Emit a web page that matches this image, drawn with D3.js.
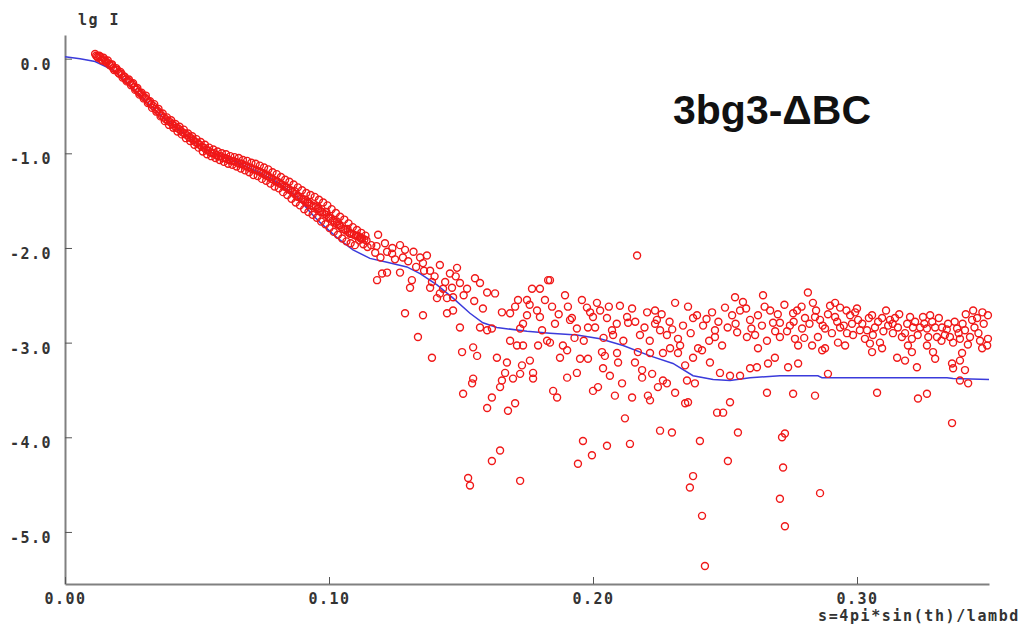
<!DOCTYPE html>
<html>
<head>
<meta charset="utf-8">
<script src="https://cdn.jsdelivr.net/npm/d3@7"></script>
<style>
body { margin: 0; background: #fff; }
</style>
</head>
<body>
<div id="chart"></div>
<script>
// tick values
var xTicks = [0, 0.1, 0.2, 0.3];
var yTicks = [0, -1, -2, -3, -4, -5];

// fitted curve (s, lg I)
var fitCurve = [
    [0.0000, 0.02], [0.0057, 0.00], [0.0114, -0.03], [0.0182, -0.12], [0.0246, -0.28],
    [0.0311, -0.46], [0.0371, -0.62], [0.0436, -0.76], [0.0500, -0.90], [0.0561, -1.00],
    [0.0625, -1.06], [0.0689, -1.14], [0.0750, -1.22], [0.0814, -1.32], [0.0879, -1.46],
    [0.0928, -1.62], [0.0966, -1.73], [0.1030, -1.89], [0.1091, -2.02], [0.1155, -2.11],
    [0.1220, -2.15], [0.1295, -2.20], [0.1345, -2.27], [0.1409, -2.39], [0.1470, -2.53],
    [0.1534, -2.69], [0.1583, -2.79], [0.1636, -2.84], [0.1750, -2.88], [0.1837, -2.90],
    [0.1939, -2.92], [0.2027, -2.96], [0.2114, -3.03], [0.2216, -3.14], [0.2303, -3.22],
    [0.2379, -3.35], [0.2455, -3.39], [0.2519, -3.40], [0.2595, -3.37], [0.2708, -3.35],
    [0.2852, -3.35], [0.2867, -3.37], [0.3341, -3.37], [0.3364, -3.38], [0.3500, -3.39]
];

// measured points, low s (dense band)
var obsBand = [
    [0.0114, 0.05], [0.0122, 0.02], [0.0130, 0.03], [0.0138, -0.01], [0.0146, 0.01],
    [0.0154, -0.03], [0.0162, -0.02], [0.0170, -0.07], [0.0178, -0.06], [0.0186, -0.12],
    [0.0194, -0.10], [0.0202, -0.15], [0.0210, -0.14], [0.0218, -0.20], [0.0226, -0.19],
    [0.0234, -0.24], [0.0242, -0.22], [0.0250, -0.28], [0.0258, -0.26], [0.0266, -0.33],
    [0.0274, -0.31], [0.0282, -0.38], [0.0290, -0.36], [0.0298, -0.42], [0.0306, -0.39],
    [0.0314, -0.47], [0.0322, -0.45], [0.0330, -0.52], [0.0338, -0.48], [0.0346, -0.56],
    [0.0354, -0.53], [0.0362, -0.61], [0.0370, -0.58], [0.0378, -0.66], [0.0386, -0.62],
    [0.0394, -0.70], [0.0402, -0.65], [0.0410, -0.73], [0.0418, -0.69], [0.0426, -0.77],
    [0.0434, -0.72], [0.0442, -0.80], [0.0450, -0.75], [0.0458, -0.84], [0.0466, -0.79],
    [0.0474, -0.87], [0.0482, -0.82], [0.0490, -0.91], [0.0498, -0.85], [0.0506, -0.94],
    [0.0514, -0.88], [0.0522, -0.98], [0.0530, -0.91], [0.0538, -1.01], [0.0546, -0.94],
    [0.0554, -1.03], [0.0562, -0.96], [0.0570, -1.05], [0.0578, -0.98], [0.0586, -1.07],
    [0.0594, -1.00], [0.0602, -1.09], [0.0610, -1.01], [0.0618, -1.11], [0.0626, -1.03],
    [0.0634, -1.12], [0.0642, -1.04], [0.0650, -1.14], [0.0658, -1.05], [0.0666, -1.16],
    [0.0674, -1.07], [0.0682, -1.18], [0.0690, -1.08], [0.0698, -1.20], [0.0706, -1.10],
    [0.0714, -1.23], [0.0722, -1.11], [0.0730, -1.24], [0.0738, -1.13], [0.0746, -1.27],
    [0.0754, -1.15], [0.0762, -1.29], [0.0770, -1.17], [0.0778, -1.32], [0.0786, -1.20],
    [0.0794, -1.35], [0.0802, -1.22], [0.0810, -1.37], [0.0818, -1.25], [0.0826, -1.41],
    [0.0834, -1.28], [0.0842, -1.44], [0.0850, -1.30], [0.0858, -1.48], [0.0866, -1.33],
    [0.0874, -1.52], [0.0882, -1.36], [0.0890, -1.55], [0.0898, -1.39], [0.0906, -1.59],
    [0.0914, -1.42], [0.0922, -1.62], [0.0930, -1.44], [0.0938, -1.65], [0.0946, -1.46],
    [0.0954, -1.68], [0.0962, -1.49], [0.0970, -1.72], [0.0978, -1.52], [0.0986, -1.75],
    [0.0994, -1.55], [0.1002, -1.79], [0.1010, -1.59], [0.1018, -1.83], [0.1026, -1.63],
    [0.1034, -1.86], [0.1042, -1.67], [0.1050, -1.90], [0.1058, -1.70], [0.1066, -1.93],
    [0.1074, -1.74], [0.1082, -1.95], [0.1090, -1.78], [0.1098, -1.97], [0.1106, -1.81],
    [0.1114, -1.92], [0.1122, -1.84], [0.1130, -1.96], [0.1138, -1.87], [0.1146, -1.99],
    [0.0760, -1.22], [0.0800, -1.30], [0.0840, -1.36], [0.0880, -1.46], [0.0920, -1.52],
    [0.0960, -1.58], [0.1000, -1.68], [0.1040, -1.76], [0.1080, -1.85], [0.1120, -1.90],
    [0.0870, -1.40], [0.0910, -1.49], [0.0950, -1.55], [0.0990, -1.62], [0.1030, -1.72],
    [0.1070, -1.80], [0.1110, -1.87]
];

// measured points, low s (middle of the band)
var obsBandMid = [
    [0.0118, 0.03], [0.0126, 0.01], [0.0134, 0.02], [0.0142, -0.02], [0.0150, -0.01],
    [0.0158, -0.04], [0.0166, -0.05], [0.0174, -0.06], [0.0182, -0.10], [0.0190, -0.11],
    [0.0198, -0.12], [0.0206, -0.16], [0.0214, -0.16], [0.0222, -0.19], [0.0230, -0.22],
    [0.0238, -0.23], [0.0246, -0.25], [0.0254, -0.27], [0.0262, -0.30], [0.0270, -0.32],
    [0.0278, -0.35], [0.0286, -0.37], [0.0294, -0.39], [0.0302, -0.41], [0.0310, -0.43],
    [0.0318, -0.46], [0.0326, -0.48], [0.0334, -0.50], [0.0342, -0.53], [0.0350, -0.55],
    [0.0358, -0.57], [0.0366, -0.60], [0.0374, -0.62], [0.0382, -0.64], [0.0390, -0.66],
    [0.0398, -0.67], [0.0406, -0.69], [0.0414, -0.71], [0.0422, -0.73], [0.0430, -0.74],
    [0.0438, -0.76], [0.0446, -0.78], [0.0454, -0.79], [0.0462, -0.81], [0.0470, -0.83],
    [0.0478, -0.84], [0.0486, -0.86], [0.0494, -0.88], [0.0502, -0.89], [0.0510, -0.91],
    [0.0518, -0.93], [0.0526, -0.94], [0.0534, -0.96], [0.0542, -0.97], [0.0550, -0.99],
    [0.0558, -1.00], [0.0566, -1.00], [0.0574, -1.02], [0.0582, -1.03], [0.0590, -1.03],
    [0.0598, -1.05], [0.0606, -1.05], [0.0614, -1.06], [0.0622, -1.07], [0.0630, -1.08],
    [0.0638, -1.08], [0.0646, -1.09], [0.0654, -1.10], [0.0662, -1.11], [0.0670, -1.11],
    [0.0678, -1.13], [0.0686, -1.13], [0.0694, -1.15], [0.0702, -1.15], [0.0710, -1.17],
    [0.0718, -1.17], [0.0726, -1.18], [0.0734, -1.19], [0.0742, -1.20], [0.0750, -1.21],
    [0.0758, -1.23], [0.0766, -1.24], [0.0774, -1.25], [0.0782, -1.27], [0.0790, -1.28],
    [0.0798, -1.29], [0.0806, -1.30], [0.0814, -1.32], [0.0822, -1.33], [0.0830, -1.35],
    [0.0838, -1.36], [0.0846, -1.38], [0.0854, -1.39], [0.0862, -1.41], [0.0870, -1.43],
    [0.0878, -1.45], [0.0886, -1.46], [0.0894, -1.48], [0.0902, -1.49], [0.0910, -1.51],
    [0.0918, -1.52], [0.0926, -1.53], [0.0934, -1.55], [0.0942, -1.56], [0.0950, -1.57],
    [0.0958, -1.59], [0.0966, -1.61], [0.0974, -1.62], [0.0982, -1.64], [0.0990, -1.65],
    [0.0998, -1.67], [0.1006, -1.69], [0.1014, -1.71], [0.1022, -1.73], [0.1030, -1.75],
    [0.1038, -1.76], [0.1046, -1.78], [0.1054, -1.80], [0.1062, -1.81], [0.1070, -1.83],
    [0.1078, -1.84], [0.1086, -1.85], [0.1094, -1.86], [0.1102, -1.87], [0.1110, -1.88],
    [0.1118, -1.89], [0.1126, -1.90], [0.1134, -1.91], [0.1142, -1.92]
];

// measured points, middle s
var obsMid = [
    [0.1186, -1.86], [0.1212, -1.95], [0.1269, -1.97], [0.1288, -2.02], [0.1239, -2.06],
    [0.1182, -2.34], [0.1201, -2.27], [0.1220, -2.26], [0.1269, -2.26], [0.1307, -2.42],
    [0.1314, -2.34], [0.1345, -2.10], [0.1371, -2.08], [0.1356, -2.16], [0.1383, -2.24],
    [0.1420, -2.18], [0.1390, -2.36], [0.1383, -2.42], [0.1458, -2.27], [0.1485, -2.21],
    [0.1496, -2.37], [0.1523, -2.43], [0.1466, -2.42], [0.1420, -2.48], [0.1409, -2.53],
    [0.1447, -2.53], [0.1470, -2.52], [0.1432, -2.43], [0.1553, -2.32], [0.1572, -2.37],
    [0.1599, -2.47], [0.1629, -2.48], [0.1583, -2.64], [0.1470, -2.66], [0.1447, -2.69],
    [0.1288, -2.69], [0.1356, -2.71], [0.1496, -2.84], [0.1337, -2.94], [0.1390, -3.16],
    [0.1504, -3.10], [0.1546, -3.05], [0.1561, -3.14], [0.1572, -2.84], [0.1599, -2.87],
    [0.1617, -2.85], [0.1655, -2.68], [0.1686, -2.69], [0.1716, -2.55], [0.1750, -2.55],
    [0.1769, -2.43], [0.1799, -2.43], [0.1818, -2.55], [0.1830, -2.34], [0.1788, -2.66],
    [0.1799, -2.73], [0.1750, -2.71], [0.1735, -2.80], [0.1724, -2.85], [0.1686, -2.98],
    [0.1712, -3.03], [0.1735, -3.03], [0.1792, -3.03], [0.1826, -2.98], [0.1807, -2.87],
    [0.1636, -3.16], [0.1674, -3.21], [0.1731, -3.24], [0.1761, -3.19], [0.1667, -3.32],
    [0.1697, -3.38], [0.1724, -3.33], [0.1773, -3.32], [0.1773, -3.38], [0.1655, -3.40],
    [0.1648, -3.47], [0.1546, -3.38], [0.1542, -3.43], [0.1508, -3.54], [0.1617, -3.58],
    [0.1599, -3.69], [0.1678, -3.72], [0.1705, -3.64], [0.1648, -4.14], [0.1617, -4.25],
    [0.1527, -4.43], [0.1534, -4.51], [0.1724, -4.46],
    [0.1160, -1.97], [0.1175, -2.05], [0.1250, -2.12], [0.1330, -2.20], [0.1300, -2.14],
    [0.1195, -2.10], [0.1240, -2.00], [0.1280, -2.10], [0.1320, -2.04], [0.1360, -2.24],
    [0.1400, -2.30], [0.1440, -2.36], [0.1480, -2.30], [0.1510, -2.50], [0.1550, -2.56],
    [0.1180, -1.98], [0.1220, -2.04]
];

// measured points, s 0.18 - 0.27
var obsTailA = [
    [0.2167, -2.08], [0.1837, -2.34], [0.1894, -2.50], [0.1958, -2.55], [0.1977, -2.63],
    [0.2015, -2.58], [0.2027, -2.66], [0.1989, -2.68], [0.1920, -2.74], [0.1913, -2.76],
    [0.1856, -2.80], [0.1939, -2.85], [0.1981, -2.84], [0.2008, -2.84], [0.2053, -2.74],
    [0.2102, -2.61], [0.2148, -2.64], [0.2129, -2.73], [0.2133, -2.79], [0.2072, -2.87],
    [0.2076, -2.92], [0.2178, -2.92], [0.2205, -2.68], [0.2235, -2.66], [0.2242, -2.76],
    [0.2235, -2.80], [0.2254, -2.87], [0.2280, -2.92], [0.2311, -2.58], [0.2341, -2.82],
    [0.2322, -2.96], [0.2330, -3.03], [0.2292, -3.06], [0.2265, -3.11], [0.2322, -3.11],
    [0.2349, -3.24], [0.2379, -3.16], [0.2398, -3.06], [0.2413, -3.08], [0.2394, -2.71],
    [0.2379, -2.74], [0.2417, -2.82], [0.2451, -2.68], [0.2462, -2.87], [0.2462, -2.94],
    [0.2500, -2.63], [0.2538, -2.52], [0.2568, -2.57], [0.2557, -2.66], [0.2527, -2.71],
    [0.2595, -2.76], [0.2625, -2.71], [0.2644, -2.50], [0.2671, -2.66], [0.2682, -2.79],
    [0.2546, -2.89], [0.2583, -2.94], [0.2614, -2.92], [0.2659, -2.98], [0.2625, -3.06],
    [0.2489, -3.03], [0.2663, -3.22], [0.2689, -3.16], [0.2443, -3.21], [0.2481, -3.32],
    [0.2519, -3.35], [0.2557, -3.35], [0.2595, -3.27], [0.2621, -3.26], [0.2659, -3.53],
    [0.1837, -3.00], [0.1886, -3.03], [0.1902, -3.08], [0.1875, -3.16], [0.1951, -3.17],
    [0.1981, -3.17], [0.2034, -3.10], [0.2045, -3.14], [0.2091, -3.11], [0.2095, -3.21],
    [0.2159, -3.21], [0.2170, -3.10], [0.2216, -3.11], [0.1939, -3.32], [0.1902, -3.37],
    [0.2038, -3.27], [0.2064, -3.35], [0.2110, -3.43], [0.2186, -3.37], [0.2224, -3.33],
    [0.2265, -3.40], [0.2280, -3.43], [0.2186, -3.29], [0.2246, -3.47], [0.1849, -3.51],
    [0.1864, -3.58], [0.2019, -3.47], [0.2000, -3.51], [0.2083, -3.56], [0.2148, -3.58],
    [0.2208, -3.56], [0.2216, -3.61], [0.2311, -3.53], [0.2356, -3.40], [0.2386, -3.43],
    [0.2349, -3.64], [0.2360, -3.63], [0.2519, -3.63], [0.2470, -3.74], [0.2493, -3.74],
    [0.2121, -3.80], [0.2254, -3.93], [0.2299, -3.95], [0.1962, -4.04], [0.2053, -4.09],
    [0.2140, -4.07], [0.2405, -4.04], [0.2549, -3.95], [0.1996, -4.19], [0.1943, -4.28],
    [0.2511, -4.25], [0.2379, -4.41], [0.2367, -4.53], [0.2413, -4.83], [0.2424, -5.36]
];

// measured points, s 0.27 - 0.35
var obsTailB = [
    [0.2814, -2.47], [0.2833, -2.58], [0.2773, -2.66], [0.2758, -2.69], [0.2803, -2.74],
    [0.2841, -2.73], [0.2860, -2.76], [0.2746, -2.82], [0.2792, -2.85], [0.2879, -2.85],
    [0.2708, -2.79], [0.2708, -2.94], [0.2765, -2.96], [0.2777, -3.03], [0.2830, -3.03],
    [0.2852, -2.94], [0.2868, -3.08], [0.2879, -3.06], [0.2898, -2.61], [0.2917, -2.58],
    [0.2936, -2.63], [0.2917, -2.73], [0.2936, -2.84], [0.2928, -3.00], [0.2955, -3.03],
    [0.2962, -2.90], [0.2974, -2.71], [0.2993, -2.68], [0.3004, -2.76], [0.2981, -2.80],
    [0.3011, -2.87], [0.3038, -2.87], [0.3030, -2.96], [0.3057, -2.71], [0.3068, -2.84],
    [0.3049, -3.01], [0.3057, -3.10], [0.3087, -3.00], [0.3095, -2.74], [0.3095, -3.06],
    [0.3118, -2.82], [0.3125, -2.76], [0.3144, -2.74], [0.3155, -2.84], [0.3136, -2.90],
    [0.3182, -2.90], [0.3201, -2.73], [0.3212, -2.84], [0.3193, -3.03], [0.3208, -2.96],
    [0.3250, -2.73], [0.3277, -2.71], [0.3239, -2.84], [0.3265, -2.85], [0.3296, -2.84],
    [0.3322, -2.84], [0.3345, -2.80], [0.3303, -2.94], [0.3333, -2.92], [0.3265, -3.03],
    [0.3288, -3.10], [0.3296, -3.17], [0.3152, -3.16], [0.3182, -3.19], [0.3227, -3.26],
    [0.3208, -3.10], [0.3379, -2.85], [0.3409, -2.87], [0.3436, -2.76], [0.3455, -2.74],
    [0.3496, -2.71], [0.3390, -2.96], [0.3428, -2.94], [0.3466, -2.98], [0.3496, -2.96],
    [0.3474, -3.06], [0.3493, -3.03], [0.3352, -2.94], [0.3364, -3.00], [0.3398, -3.11],
    [0.3390, -3.19], [0.3360, -3.22], [0.3364, -3.27], [0.3409, -3.29], [0.3390, -3.40],
    [0.3421, -3.43], [0.2739, -3.26], [0.2777, -3.22], [0.2890, -3.33], [0.2758, -3.54],
    [0.2841, -3.56], [0.3076, -3.53], [0.3231, -3.59], [0.3265, -3.54], [0.3360, -3.85],
    [0.2727, -3.96], [0.2716, -4.00], [0.2720, -4.32], [0.2860, -4.59], [0.2708, -4.65],
    [0.2727, -4.94]
];

// measured points, upper part of the tail
var obsTailTop = [
    [0.1705, -2.62], [0.1760, -2.60], [0.1845, -2.62], [0.1870, -2.70], [0.1905, -2.62],
    [0.1930, -2.95], [0.1965, -2.98], [0.2000, -2.73], [0.2040, -2.95], [0.2060, -2.62],
    [0.2090, -2.80], [0.2115, -2.98], [0.2160, -2.78], [0.2195, -2.84], [0.2215, -2.98],
    [0.2260, -2.70], [0.2290, -2.78], [0.2300, -2.86], [0.2360, -2.62], [0.2370, -2.90],
    [0.2430, -2.75], [0.2440, -2.98], [0.2475, -2.78], [0.2510, -2.84], [0.2540, -2.80],
    [0.2580, -2.64], [0.2600, -2.85], [0.2640, -2.82], [0.2650, -2.62], [0.2690, -2.88],
    [0.2700, -2.70], [0.2725, -2.60], [0.2735, -2.88], [0.2760, -2.78], [0.2790, -2.62],
    [0.2800, -2.95], [0.2820, -2.80], [0.2845, -2.66], [0.2870, -2.82], [0.2890, -2.70],
    [0.2905, -2.90], [0.2925, -2.78], [0.2950, -2.82], [0.2960, -2.66], [0.2985, -2.92],
    [0.3000, -2.64], [0.3020, -2.80], [0.3045, -2.74], [0.3060, -2.92], [0.3080, -2.78],
    [0.3100, -2.88], [0.3110, -2.66], [0.3135, -2.80], [0.3160, -2.70], [0.3170, -2.94],
    [0.3190, -2.80], [0.3220, -2.78], [0.3230, -2.92], [0.3255, -2.80], [0.3270, -2.94],
    [0.3285, -2.78], [0.3310, -2.74], [0.3320, -2.98], [0.3340, -2.86], [0.3370, -2.78],
    [0.3385, -2.90], [0.3400, -2.80], [0.3420, -3.02], [0.3445, -2.84], [0.3460, -2.90],
    [0.3480, -2.80], [0.3440, -2.66], [0.3412, -2.70], [0.3475, -2.68]
];

var opt = {
    width: 1035,
    height: 635,
    left: 65,       // y axis x
    right: 989,     // end of x axis
    top: 35,        // top of y axis
    bottom: 584,    // x axis y
    axisC: '#808080',
    tickC: '#555',
    textC: '#333',
    dotC: '#f01818',
    dotR: 3.5,
    dotW: 1.4,
    lineC: '#3b3bdb',
    monoFont: '"DejaVu Sans Mono", monospace'
};

var svg = d3.select('#chart').append('svg')
    .attr('width', opt.width)
    .attr('height', opt.height)
    .style('background', '#fff');

var x = d3.scaleLinear().domain([0, 0.35]).range([opt.left, opt.right]);
var y = d3.scaleLinear().domain([-5.55, 0.25]).range([opt.bottom, opt.top]);

// axes
var yAxis = d3.axisLeft(y).tickValues(yTicks).tickSize(-7).tickSizeOuter(0).tickPadding(13)
    .tickFormat(function (d) { return d.toFixed(1); });
var xAxis = d3.axisBottom(x).tickValues(xTicks).tickSize(-7).tickSizeOuter(0).tickPadding(9)
    .tickFormat(function (d) { return d.toFixed(2); });

var gy = svg.append('g').attr('transform', 'translate(' + opt.left + ',0)').call(yAxis);
var gx = svg.append('g').attr('transform', 'translate(0,' + opt.bottom + ')').call(xAxis);

[gx, gy].forEach(function (g) {
    g.select('.domain').attr('stroke', opt.axisC).attr('stroke-width', 2);
    g.selectAll('.tick line').attr('stroke', opt.tickC).attr('stroke-width', 1);
    g.selectAll('.tick text')
        .attr('fill', opt.textC)
        .style('font-family', opt.monoFont)
        .style('font-weight', 'bold')
        .style('font-size', '15px')
        .style('letter-spacing', '1.5px');
});
gy.selectAll('.tick text').attr('dy', '0.7em');

// axis titles
svg.append('text').text('lg I')
    .attr('x', 78).attr('y', 25)
    .attr('fill', opt.textC)
    .style('font-family', opt.monoFont).style('font-weight', 'bold')
    .style('font-size', '15px').style('letter-spacing', '1.5px');

svg.append('text').text('s=4pi*sin(th)/lambd')
    .attr('x', 818).attr('y', 621)
    .attr('fill', opt.textC)
    .style('font-family', opt.monoFont).style('font-weight', 'bold')
    .style('font-size', '15px').style('letter-spacing', '1.6px');

// chart label
svg.append('text').text('3bg3-\u0394BC')
    .attr('x', 673).attr('y', 124)
    .attr('fill', '#111')
    .style('font-family', '"Liberation Sans", Arial, sans-serif')
    .style('font-weight', 'bold')
    .style('font-size', '41px');

// fit curve, drawn under the circles
var line = d3.line()
    .x(function (d) { return x(d[0]); })
    .y(function (d) { return y(d[1]); });
svg.append('path')
    .datum(fitCurve)
    .attr('d', line)
    .attr('fill', 'none')
    .attr('stroke', opt.lineC)
    .attr('stroke-width', 1.5);

// data circles
var allObs = obsBand.concat(obsBandMid, obsMid, obsTailA, obsTailB, obsTailTop);
svg.append('g').selectAll('circle')
    .data(allObs)
    .enter().append('circle')
    .attr('cx', function (d) { return x(d[0]); })
    .attr('cy', function (d) { return y(d[1]); })
    .attr('r', opt.dotR)
    .attr('fill', 'none')
    .attr('stroke', opt.dotC)
    .attr('stroke-width', opt.dotW);
</script>
</body>
</html>
